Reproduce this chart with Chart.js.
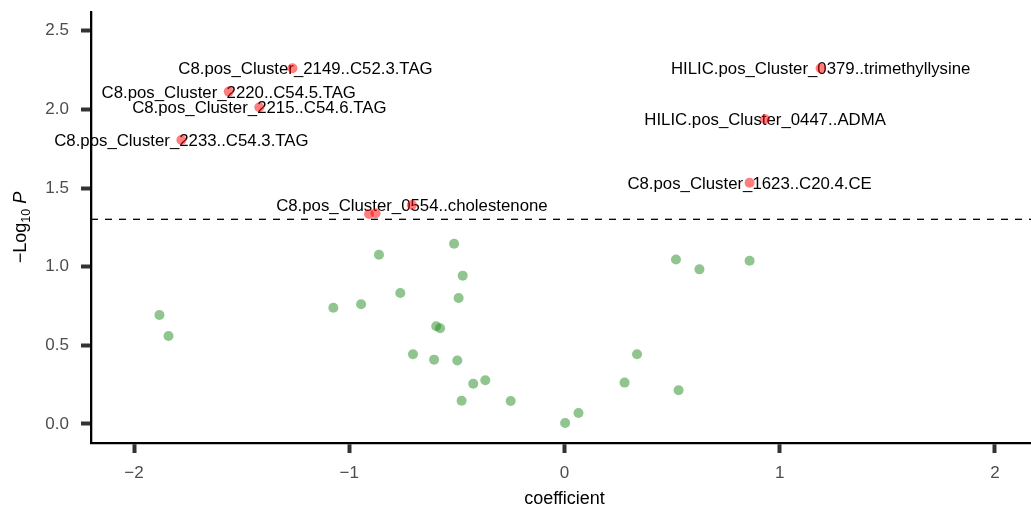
<!DOCTYPE html>
<html>
<head>
<meta charset="utf-8">
<script src="https://cdn.jsdelivr.net/npm/chart.js@4"></script>
<style>
  html, body { margin: 0; padding: 0; background: #fff; overflow: hidden; }
  #wrap { width: 1043px; height: 507px; }
</style>
</head>
<body>
<div id="wrap"><canvas id="volcano"></canvas></div>
<script>
// non-significant features (green)
const nsCoef = [-1.882, -1.840, -1.074, -0.945, -0.862, -0.763, -0.513, -0.473, -0.492, -0.596,
                -0.578, -0.704, -0.606, -0.498, -0.424, -0.368, -0.478, -0.250, 0.003, 0.065,
                0.279, 0.337, 0.518, 0.530, 0.627, 0.860];
const nsLogP = [0.693, 0.559, 0.739, 0.761, 1.076, 0.833, 1.146, 0.943, 0.801, 0.621,
                0.608, 0.443, 0.409, 0.403, 0.256, 0.278, 0.148, 0.146, 0.006, 0.070,
                0.263, 0.443, 1.045, 0.214, 0.983, 1.038];

// significant features (red)
const sigCoef = [-1.264, -1.560, -1.418, -1.780, -0.709, -0.908, -0.878, 1.190, 0.932, 0.860];
const sigLogP = [2.261, 2.113, 2.013, 1.805, 1.392, 1.335, 1.340, 2.261, 1.937, 1.534];
const sigNames = [
  'C8.pos_Cluster_2149..C52.3.TAG',
  'C8.pos_Cluster_2220..C54.5.TAG',
  'C8.pos_Cluster_2215..C54.6.TAG',
  'C8.pos_Cluster_2233..C54.3.TAG',
  'C8.pos_Cluster_0554..cholestenone',
  '',
  '',
  'HILIC.pos_Cluster_0379..trimethyllysine',
  'HILIC.pos_Cluster_0447..ADMA',
  'C8.pos_Cluster_1623..C20.4.CE'
];

const threshold = -Math.log10(0.05);
const xTicks = [-2, -1, 0, 1, 2];
const xTickLabels = ['\u22122', '\u22121', '0', '1', '2'];
const yTicks = [0, 0.5, 1, 1.5, 2, 2.5];
const yTickLabels = ['0.0', '0.5', '1.0', '1.5', '2.0', '2.5'];

const toPoints = (xs, ys) => xs.map((x, i) => ({ x: x, y: ys[i] }));

// dashed significance line + point labels, drawn under the points
const annotate = {
  id: 'annotate',
  beforeDatasetsDraw(chart) {
    const { ctx, chartArea, scales } = chart;
    const yPix = scales.y.getPixelForValue(threshold);
    ctx.save();
    ctx.strokeStyle = '#000';
    ctx.lineWidth = 1.3;
    ctx.setLineDash([7, 7]);
    ctx.beginPath();
    ctx.moveTo(chartArea.left, yPix);
    ctx.lineTo(chartArea.right, yPix);
    ctx.stroke();
    ctx.setLineDash([]);

    ctx.font = '16.8px "Liberation Sans", Arial, sans-serif';
    ctx.fillStyle = '#000';
    ctx.textAlign = 'center';
    ctx.textBaseline = 'middle';
    const shift = { 0: 13 };
    sigNames.forEach((name, i) => {
      if (!name) return;
      const px = scales.x.getPixelForValue(sigCoef[i]) + (shift[i] || 0);
      const py = scales.y.getPixelForValue(sigLogP[i]) + 1.5;
      ctx.fillText(name, px, py);
    });
    ctx.restore();
  },
  afterDraw(chart) {
    // y axis title: -Log10 P with subscript and italic P
    const { ctx, chartArea } = chart;
    const big = '18px "Liberation Sans", Arial, sans-serif';
    const small = '12.5px "Liberation Sans", Arial, sans-serif';
    const ital = 'italic 18px "Liberation Sans", Arial, sans-serif';
    const parts = [
      { t: '\u2212Log', f: big, dy: 0 },
      { t: '10', f: small, dy: 4 },
      { t: ' ', f: big, dy: 0 },
      { t: 'P', f: ital, dy: 0 }
    ];
    ctx.save();
    let total = 0;
    parts.forEach(p => { ctx.font = p.f; p.w = ctx.measureText(p.t).width; total += p.w; });
    ctx.translate(26, (chartArea.top + chartArea.bottom) / 2);
    ctx.rotate(-Math.PI / 2);
    ctx.fillStyle = '#000';
    ctx.textBaseline = 'alphabetic';
    ctx.textAlign = 'left';
    let cx = -total / 2;
    parts.forEach(p => {
      ctx.font = p.f;
      ctx.fillText(p.t, cx, p.dy);
      cx += p.w;
    });
    ctx.restore();
  }
};

const ctx = document.getElementById('volcano').getContext('2d');
const volcano = new Chart(ctx, {
  type: 'scatter',
  data: {
    datasets: [
      {
        label: 'ns',
        data: toPoints(nsCoef, nsLogP),
        backgroundColor: 'rgba(34, 139, 34, 0.5)',
        borderWidth: 0,
        pointRadius: 5,
        pointHoverRadius: 5
      },
      {
        label: 'sig',
        data: toPoints(sigCoef, sigLogP),
        backgroundColor: 'rgba(255, 0, 0, 0.5)',
        borderWidth: 0,
        pointRadius: 5,
        pointHoverRadius: 5
      }
    ]
  },
  options: {
    responsive: true,
    maintainAspectRatio: false,
    animation: false,
    layout: { padding: { top: 12, right: 0, left: 0, bottom: 0 } },
    plugins: {
      legend: { display: false },
      tooltip: { enabled: false }
    },
    scales: {
      x: {
        type: 'linear',
        min: -2.2,
        max: 2.2,
        afterBuildTicks: s => { s.ticks = xTicks.map(v => ({ value: v })); },
        afterFit: s => { s.height = 64; s.paddingLeft = 0; s.paddingRight = 0; },
        ticks: {
          callback: (v) => xTickLabels[xTicks.indexOf(v)],
          color: '#4d4d4d',
          font: { family: '"Liberation Sans", Arial, sans-serif', size: 17 },
          padding: 10,
          maxRotation: 0
        },
        grid: {
          drawOnChartArea: false,
          tickLength: 10,
          tickWidth: 4,
          tickColor: '#333'
        },
        border: { display: true, color: '#000', width: 2.3 },
        title: {
          display: true,
          text: 'coefficient',
          color: '#000',
          font: { family: '"Liberation Sans", Arial, sans-serif', size: 18, lineHeight: 0.9 },
          padding: 0
        }
      },
      y: {
        type: 'linear',
        min: -0.121,
        max: 2.619,
        afterBuildTicks: s => { s.ticks = yTicks.map(v => ({ value: v })); },
        afterFit: s => { s.width = 91; s.paddingTop = 0; s.paddingBottom = 0; },
        ticks: {
          callback: (v) => yTickLabels[yTicks.indexOf(v)],
          color: '#4d4d4d',
          font: { family: '"Liberation Sans", Arial, sans-serif', size: 17 },
          padding: 12
        },
        grid: {
          drawOnChartArea: false,
          tickLength: 10,
          tickWidth: 4,
          tickColor: '#333'
        },
        border: { display: true, color: '#000', width: 2.3 }
      }
    }
  },
  plugins: [annotate]
});
</script>
</body>
</html>
